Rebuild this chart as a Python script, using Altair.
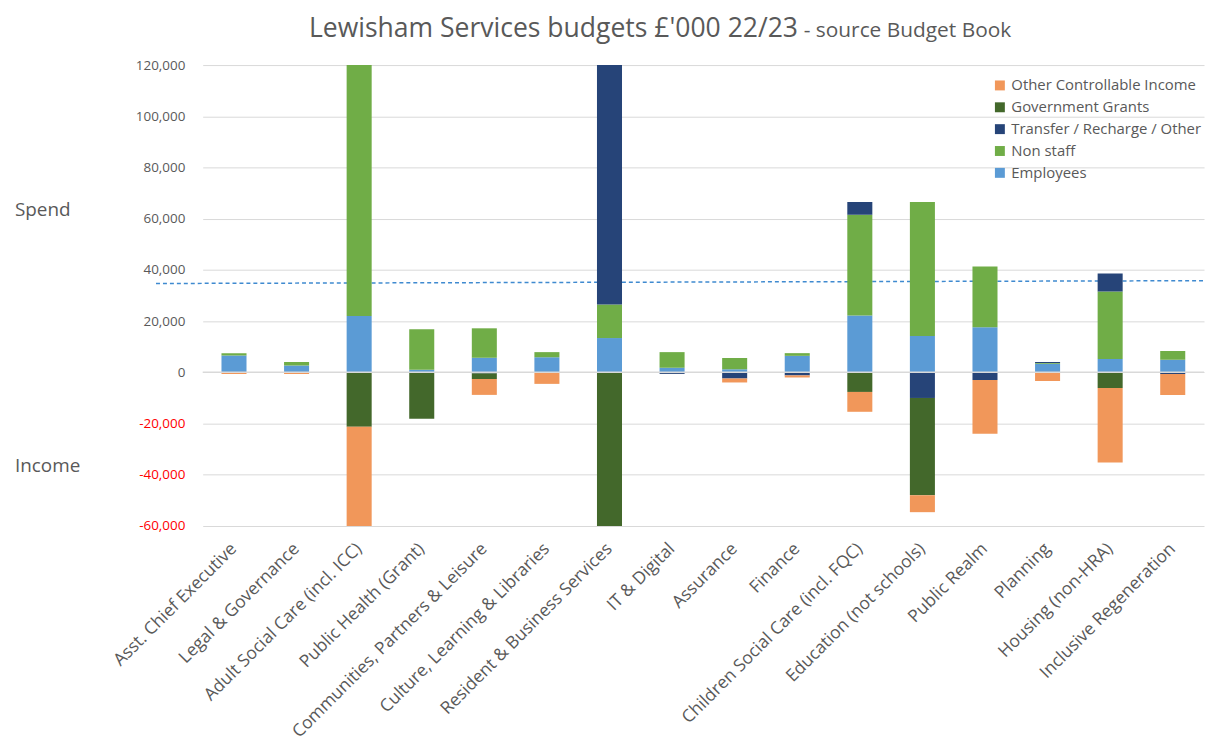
import altair as alt
import pandas as pd

categories = [
    "Asst. Chief Executive", "Legal & Governance", "Adult Social Care (incl. ICC)",
    "Public Health (Grant)", "Communities, Partners & Leisure", "Culture, Learning & Libraries",
    "Resident & Business Services", "IT & Digital", "Assurance", "Finance",
    "Children Social Care (incl. FQC)", "Education (not schools)", "Public Realm",
    "Planning", "Housing (non-HRA)", "Inclusive Regeneration",
]
employees = [6600, 2700, 22000, 1000, 5700, 5900, 13400, 1800, 1200, 6450, 22250, 14200, 17600, 3350, 5200, 4900]
non_staff = [900, 1300, 120000, 15800, 11500, 2000, 13100, 6100, 4400, 1050, 39250, 52300, 23700, 350, 26400, 3400]
transfer = [0, 0, 0, 0, -400, 0, 110000, -600, -2400, -1200, 5000, -10000, -3000, 300, 7000, -600]
grants = [0, 0, -21200, -18100, -2200, 0, -95000, 0, 0, 0, -7650, -38000, 0, 0, -6100, 0]
other_income = [-600, -600, -45000, 0, -6200, -4500, 0, 0, -1550, -800, -7750, -6600, -21000, -3400, -29100, -8200]

legend_names = ["Other Controllable Income", "Government Grants", "Transfer / Recharge / Other", "Non staff", "Employees"]
legend_colors = ["#F1975A", "#43682B", "#264478", "#70AD47", "#5B9BD5"]
y_ticks = [-60000, -40000, -20000, 0, 20000, 40000, 60000, 80000, 100000, 120000]
avg_line = [34700, 35800]

series = [
    ("Employees", employees),
    ("Non staff", non_staff),
    ("Transfer / Recharge / Other", transfer),
    ("Government Grants", grants),
    ("Other Controllable Income", other_income),
]
rows = []
for k, (name, vals) in enumerate(series):
    for c, v in zip(categories, vals):
        rows.append({"Service": c, "Series": name, "Value": v, "ord": k})
df = pd.DataFrame(rows)

FONT = "Open Sans"
GREY = "#595959"
W, H = 1008, 464

yscale = alt.Scale(domain=[-60000, 120000], nice=False, zero=True)

bars = alt.Chart(df).mark_bar(clip=True).encode(
    x=alt.X("Service:N", sort=categories,
            scale=alt.Scale(paddingInner=0.6, paddingOuter=0.3),
            axis=alt.Axis(title=None, labelAngle=-45, labelAlign="right", labelBaseline="middle",
                          labelPadding=20, labelFontSize=17.5, labelColor=GREY, labelFont=FONT,
                          labelLimit=400, labelOverlap=False, ticks=False, domain=False)),
    y=alt.Y("Value:Q", stack="zero", scale=yscale,
            axis=alt.Axis(title=None, values=y_ticks, grid=True, gridColor="#D9D9D9",
                          ticks=False, domain=False, labelPadding=18, labelFontSize=13.5,
                          labelFont=FONT,
                          labelExpr="datum.value < 0 ? '-' + format(-datum.value, ',') : format(datum.value, ',')",
                          labelColor={"condition": {"test": "datum.value < 0", "value": "#FF0000"}, "value": GREY})),
    color=alt.Color("Series:N", scale=alt.Scale(domain=legend_names, range=legend_colors),
                    legend=alt.Legend(title=None, orient="none", legendX=795, legendY=13,
                                      symbolType="square", symbolSize=100, symbolStrokeWidth=0,
                                      labelFontSize=15, labelFont=FONT, labelColor=GREY,
                                      labelLimit=400, rowPadding=6, labelOffset=4)),
    order=alt.Order("ord:Q", sort="ascending"),
)

line_df = pd.DataFrame({"y1": [avg_line[0]], "y2": [avg_line[1]]})
dashed = alt.Chart(line_df).mark_rule(color="#3F8AD0", strokeDash=[4, 3], strokeWidth=1.5).encode(
    x=alt.value(-47), x2=alt.value(W), y=alt.Y("y1:Q", scale=yscale), y2="y2:Q"
)

zero_df = pd.DataFrame({"z": [0]})
zero_rule = alt.Chart(zero_df).mark_rule(color="#D9D9D9", strokeWidth=1.5).encode(
    x=alt.value(0), x2=alt.value(W), y=alt.Y("z:Q", scale=yscale)
)

side_df = pd.DataFrame({"label": ["Spend", "Income"], "v": [63400, -36400]})
side = alt.Chart(side_df).mark_text(align="left", baseline="middle", fontSize=19, font=FONT, color=GREY).encode(
    x=alt.value(-189), y=alt.Y("v:Q", scale=yscale), text="label:N"
)

title_df = pd.DataFrame({"t": ["Lewisham Services budgets £'000 22/23"]})
title_main = alt.Chart(title_df).mark_text(align="left", baseline="alphabetic", fontSize=26.7, font=FONT, color=GREY).encode(
    x=alt.value(107), y=alt.value(-28), text="t:N"
)
sub_df = pd.DataFrame({"t": ["- source Budget Book"]})
title_sub = alt.Chart(sub_df).mark_text(align="left", baseline="alphabetic", fontSize=21, font=FONT, color=GREY).encode(
    x=alt.value(605), y=alt.value(-28), text="t:N"
)

chart = alt.layer(dashed, bars, zero_rule, side, title_main, title_sub).properties(
    width=W, height=H,
    background="white",
    autosize=alt.AutoSizeParams(type="none"),
    padding={"left": 196, "top": 55, "right": 4, "bottom": 216},
).configure_view(stroke=None)

chart.save("out.html", embed_options={"renderer": "svg", "actions": False})
